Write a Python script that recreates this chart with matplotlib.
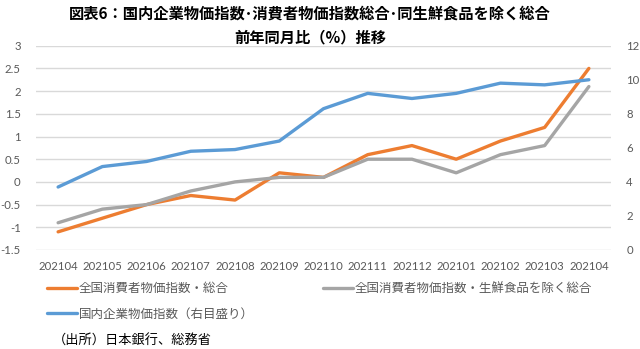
import matplotlib
matplotlib.use("Agg")
import matplotlib.pyplot as plt
from matplotlib.lines import Line2D

plt.rcParams['font.family'] = ['Lato', 'Noto Sans CJK JP', 'DejaVu Sans']

months = ["202104", "202105", "202106", "202107", "202108", "202109", "202110",
          "202111", "202112", "202101", "202102", "202103", "202104"]
cpi_total = [-1.1, -0.8, -0.5, -0.3, -0.4, 0.2, 0.1, 0.6, 0.8, 0.5, 0.9, 1.2, 2.5]
cpi_core = [-0.9, -0.6, -0.5, -0.2, 0.0, 0.1, 0.1, 0.5, 0.5, 0.2, 0.6, 0.8, 2.1]
cgpi = [3.7, 4.9, 5.2, 5.8, 5.9, 6.4, 8.3, 9.2, 8.9, 9.2, 9.8, 9.7, 10.0]

left_ticks = [-1.5, -1, -0.5, 0, 0.5, 1, 1.5, 2, 2.5, 3]
left_labels = ["-1.5", "-1", "-0.5", "0", "0.5", "1", "1.5", "2", "2.5", "3"]
right_ticks = [0, 2, 4, 6, 8, 10, 12]

labels = ["全国消費者物価指数・総合", "全国消費者物価指数・生鮮食品を除く総合", "国内企業物価指数（右目盛り）"]
title1 = "図表6：国内企業物価指数･消費者物価指数総合･同生鮮食品を除く総合"
title2 = "前年同月比（%）推移"
source = "（出所）日本銀行、総務省"

c_orange = "#ED7D31"
c_gray = "#A5A5A5"
c_blue = "#5B9BD5"
tick_color = "#595959"

fig = plt.figure(figsize=(6.4, 3.49), dpi=100)
ax = fig.add_axes([36/640, 1-250/349, (611-36)/640, (250-45.7)/349])
ax2 = ax.twinx()

x = list(range(len(months)))
lw = 2.4
l_orange, = ax.plot(x, cpi_total, color=c_orange, lw=lw, solid_capstyle='round', zorder=3)
l_gray, = ax.plot(x, cpi_core, color=c_gray, lw=lw, solid_capstyle='round', zorder=3)
l_blue, = ax2.plot(x, cgpi, color=c_blue, lw=lw, solid_capstyle='round', zorder=3)

ax.set_xlim(-0.5, len(months) - 0.5)
ax.set_ylim(-1.5, 3)
ax2.set_ylim(0, 12)
ax.set_yticks(left_ticks)
ax.set_yticklabels(left_labels)
ax2.set_yticks(right_ticks)
ax.set_xticks(x)
ax.set_xticklabels(months)

ax.grid(axis='y', color="#D9D9D9", lw=1)
ax.set_axisbelow(True)
for a in (ax, ax2):
    for s in a.spines.values():
        s.set_visible(False)
ax.tick_params(axis='both', length=0, labelsize=8.2, colors=tick_color)
ax.tick_params(axis='y', pad=11)
ax.tick_params(axis='x', pad=8)
ax2.tick_params(axis='y', length=0, labelsize=8.2, colors=tick_color, pad=11)

fig.text(310/640, 1-14/349, title1, ha='center', va='center', fontsize=11,
         fontweight='bold', family=['Noto Sans CJK JP', 'DejaVu Sans'], color='black')
fig.text(310/640, 1-37/349, title2, ha='center', va='center', fontsize=11,
         fontweight='bold', family=['Noto Sans CJK JP', 'DejaVu Sans'], color='black')

leg = fig.legend([l_orange, l_blue, l_gray], [labels[0], labels[2], labels[1]],
                 ncol=2, loc='upper left', bbox_to_anchor=(47/640, 1-282/349),
                 frameon=False, borderpad=0, borderaxespad=0, handlelength=2.4,
                 handletextpad=0.15, columnspacing=5.5, labelspacing=1.0,
                 prop={'family': ['Noto Sans CJK JP', 'DejaVu Sans'], 'size': 9})
for t in leg.get_texts():
    t.set_color(tick_color)

fig.text(53/640, 1-341/349, source, ha='left', va='center', fontsize=9.5,
         family=['Noto Sans CJK JP', 'DejaVu Sans'], color='black')

fig.savefig("out.png", dpi=100)
